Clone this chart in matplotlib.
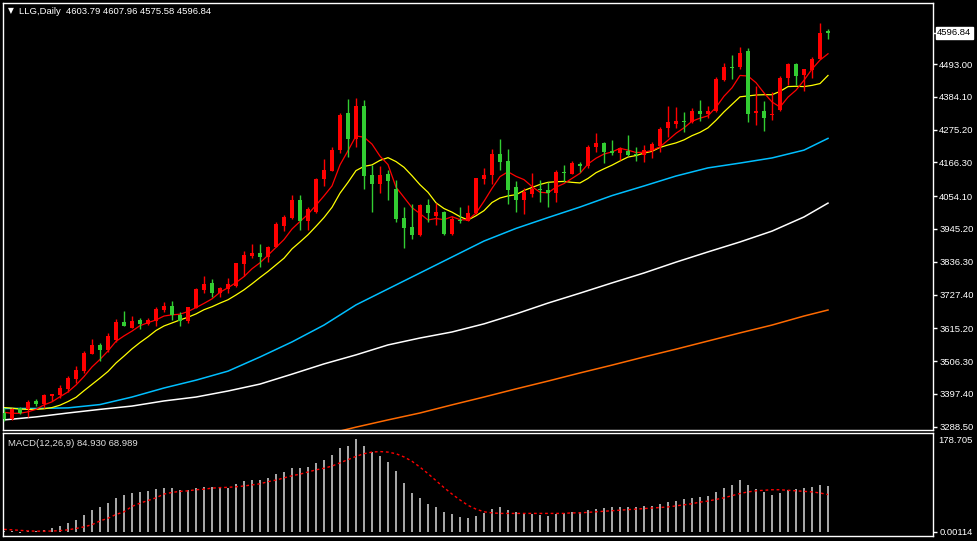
import matplotlib
matplotlib.use("Agg")
import matplotlib.pyplot as plt
import matplotlib.transforms as mtransforms

# daily candles
opens = [3333, 3314, 3349, 3346, 3374, 3364, 3390, 3393, 3414, 3448,
         3473, 3531, 3560, 3543, 3576, 3636, 3617, 3643, 3629, 3640,
         3676, 3689, 3659, 3640, 3684, 3742, 3765, 3731, 3747, 3756,
         3829, 3855, 3864, 3851, 3886, 3955, 3982, 4041, 3973, 4002,
         4110, 4139, 4207, 4329, 4244, 4353, 4124, 4094, 4127, 4078,
         3981, 3953, 3925, 4025, 3988, 4002, 3928, 3976, 3973, 3997,
         4111, 4124, 4194, 4171, 4083, 4041, 4061, 4079, 4074, 4065,
         4135, 4128, 4161, 4154, 4218, 4232, 4204, 4198, 4205, 4194,
         4191, 4207, 4222, 4279, 4293, 4304, 4299, 4337, 4327, 4337,
         4440, 4484, 4484, 4536, 4329, 4337, 4324, 4340, 4445, 4492,
         4456, 4473, 4510, 4603.79]
highs = [3349, 3350, 3355, 3377, 3379, 3397, 3397, 3427, 3458, 3490,
         3540, 3579, 3566, 3599, 3646, 3673, 3656, 3650, 3648, 3687,
         3703, 3706, 3670, 3687, 3748, 3789, 3778, 3753, 3781, 3833,
         3872, 3894, 3894, 3888, 3968, 3992, 4058, 4058, 4019, 4115,
         4177, 4216, 4329, 4377, 4379, 4373, 4157, 4154, 4141, 4108,
         4019, 4027, 4028, 4045, 4030, 4006, 3988, 4019, 4025, 4114,
         4148, 4211, 4244, 4211, 4104, 4080, 4130, 4108, 4102, 4141,
         4157, 4171, 4168, 4224, 4265, 4235, 4241, 4218, 4257, 4216,
         4224, 4235, 4285, 4354, 4351, 4333, 4346, 4373, 4354, 4449,
         4497, 4523, 4550, 4545, 4421, 4370, 4401, 4453, 4497, 4497,
         4476, 4515, 4630, 4607.96]
lows = [3308, 3310, 3330, 3320, 3358, 3350, 3374, 3383, 3405, 3435,
        3468, 3529, 3508, 3537, 3571, 3624, 3615, 3612, 3626, 3624,
        3670, 3643, 3623, 3632, 3682, 3731, 3718, 3720, 3733, 3753,
        3790, 3849, 3818, 3836, 3884, 3939, 3977, 3942, 3942, 3999,
        4089, 4138, 4196, 4183, 4216, 4078, 4002, 4063, 4041, 3967,
        3883, 3912, 3923, 3969, 3958, 3925, 3925, 3964, 3972, 3995,
        4094, 4094, 4141, 4028, 4002, 3995, 4052, 4036, 4019, 4036,
        4102, 4128, 4135, 4148, 4202, 4163, 4191, 4174, 4187, 4171,
        4168, 4180, 4202, 4251, 4279, 4268, 4296, 4304, 4313, 4335,
        4437, 4443, 4476, 4301, 4290, 4271, 4307, 4338, 4423, 4423,
        4404, 4445, 4510, 4575.58]
closes = [3314, 3346, 3335, 3370, 3363, 3393, 3396, 3418, 3450, 3477,
          3533, 3559, 3543, 3590, 3636, 3624, 3639, 3629, 3643, 3679,
          3690, 3659, 3640, 3685, 3745, 3762, 3734, 3748, 3762, 3831,
          3859, 3864, 3851, 3886, 3962, 3986, 4041, 3973, 4010, 4111,
          4141, 4207, 4323, 4244, 4353, 4122, 4094, 4124, 4104, 3978,
          3949, 3925, 4025, 3999, 4002, 3928, 3978, 3972, 3997, 4114,
          4124, 4194, 4167, 4074, 4041, 4069, 4078, 4074, 4063, 4135,
          4130, 4165, 4155, 4218, 4232, 4202, 4198, 4213, 4191, 4190,
          4207, 4227, 4277, 4299, 4304, 4300, 4337, 4327, 4337, 4443,
          4484, 4479, 4530, 4327, 4337, 4313, 4328, 4445, 4492, 4453,
          4476, 4510, 4595, 4596.84]

# short moving averages (red, yellow), one value per candle
ma_red = [3336, 3333, 3333, 3338, 3346, 3361, 3371, 3388, 3404, 3427,
          3455, 3487, 3512, 3540, 3572, 3590, 3606, 3624, 3634, 3643,
          3656, 3660, 3662, 3671, 3684, 3698, 3713, 3735, 3750, 3767,
          3787, 3813, 3833, 3858, 3884, 3910, 3945, 3970, 3994, 4024,
          4055, 4088, 4158, 4205, 4254, 4250, 4227, 4187, 4159, 4084,
          4050, 4016, 3996, 3975, 3980, 3976, 3986, 3976, 3975, 3998,
          4037, 4080, 4119, 4135, 4120, 4109, 4086, 4067, 4065, 4084,
          4096, 4113, 4130, 4161, 4180, 4194, 4201, 4213, 4207, 4199,
          4200, 4206, 4218, 4240, 4263, 4281, 4303, 4313, 4321, 4349,
          4386, 4414, 4455, 4453, 4431, 4397, 4367, 4350, 4383, 4406,
          4439, 4476, 4506, 4527]
ma_yellow = [3352, 3350, 3347, 3346, 3346, 3348, 3352, 3360, 3372, 3386,
             3408, 3429, 3450, 3472, 3500, 3523, 3547, 3568, 3587, 3608,
             3623, 3633, 3643, 3652, 3663, 3677, 3687, 3699, 3710, 3726,
             3743, 3763, 3784, 3804, 3826, 3848, 3879, 3902, 3926, 3954,
             3983, 4017, 4064, 4100, 4139, 4153, 4158, 4173, 4182, 4169,
             4150, 4122, 4092, 4067, 4032, 4013, 4001, 3986, 3975, 3989,
             4006, 4033, 4048, 4055, 4059, 4073, 4083, 4093, 4100, 4102,
             4103, 4100, 4098, 4113, 4132, 4145, 4157, 4171, 4184, 4189,
             4197, 4203, 4216, 4224, 4231, 4241, 4255, 4266, 4281, 4306,
             4334, 4359, 4384, 4387, 4390, 4391, 4391, 4402, 4418, 4419,
             4418, 4422, 4428, 4455]

# long moving averages, read every few candles
long_idx = [0, 4, 8, 12, 16, 20, 24, 28, 32, 36, 40, 44, 48, 52,
            56, 60, 64, 68, 72, 76, 80, 84, 88, 92, 96, 100, 103]
ma_blue = [3349, 3349, 3351, 3362, 3387, 3417, 3443, 3473, 3520, 3570,
           3626, 3693, 3746, 3799, 3852, 3905, 3947, 3983, 4018, 4056,
           4088, 4121, 4148, 4164, 4181, 4207, 4246]
ma_white = [3311, 3321, 3334, 3346, 3357, 3374, 3387, 3407, 3430, 3463,
            3497, 3527, 3560, 3583, 3603, 3630, 3663, 3699, 3732, 3766,
            3799, 3835, 3869, 3902, 3938, 3985, 4031]
orange_idx = [42, 44, 48, 52, 56, 60, 64, 68, 72, 76, 80, 84, 88, 92, 96, 100, 103]
ma_orange = [3274, 3287, 3311, 3334, 3361, 3387, 3414, 3440, 3467, 3493,
             3520, 3546, 3573, 3600, 3626, 3656, 3676]

# MACD(12,26,9)
macd_main = [1, 2, -2, 0.5, 1, 3, 6, 10.5, 15.5, 21.7,
             31, 40, 45, 52.7, 62, 67.5, 72, 74, 75.6, 79,
             81, 80.5, 77.4, 77.4, 81, 84, 84, 83, 82, 88.6,
             94, 96.7, 96.7, 99, 106.6, 111.5, 119, 119, 120, 128,
             133, 142, 155, 160, 172, 160, 148, 140, 130, 112,
             90, 72, 62, 52, 45, 36, 32, 28, 26, 30,
             34, 42, 45, 40, 36, 34, 33, 31, 30, 33,
             34, 36, 37, 40, 43, 44, 45, 46, 46, 46,
             47, 48, 52, 56, 58, 60, 63, 64, 66, 73,
             82, 87, 96, 86, 80, 73, 68, 72, 78, 80,
             81, 84, 86, 84.93]
macd_signal = [4.3, 3.5, 2.5, 1.5, 1, 1, 1.2, 2, 3.5, 6,
               9, 13, 20, 25, 32, 37, 47, 53, 58, 63,
               70, 73, 75, 76, 78, 79, 81, 82, 82.5, 83.5,
               85, 87, 89, 93, 96, 100, 104, 107, 111, 115,
               118, 122, 128, 134, 140, 145, 148, 149, 148, 145,
               139, 131, 120, 108, 95, 82, 70, 59, 49, 42,
               37, 35, 34, 34, 34, 34, 34, 34, 34, 34,
               34, 35, 35, 36, 37, 38, 39, 40, 41, 42,
               43, 44, 45, 46, 48, 50, 52, 55, 57, 60,
               63, 67, 71, 74, 76, 77, 78, 78, 77, 76,
               75, 74, 72, 68.989]

price_ticks = [4493.00, 4384.10, 4275.20, 4166.30, 4054.10, 3945.20,
               3836.30, 3727.40, 3615.20, 3506.30, 3397.40, 3288.50]

plt.rcParams['font.family'] = ['Liberation Sans', 'DejaVu Sans']
FS = 6.8

W, H = 977, 541
fig = plt.figure(figsize=(W / 100, H / 100), dpi=100, facecolor='black')


def px_box(x0, y0, x1, y1):
    return [x0 / W, 1 - y1 / H, (x1 - x0) / W, (y1 - y0) / H]


ax = fig.add_axes(px_box(3, 3, 933, 430))
axm = fig.add_axes(px_box(3, 433, 933, 536))

for a in (ax, axm):
    a.set_facecolor('black')
    for s in a.spines.values():
        s.set_color('white')
        s.set_linewidth(1)
    a.set_xlim(-0.125, 116.125)
    a.tick_params(axis='x', bottom=False, labelbottom=False)
    a.yaxis.tick_right()
    a.tick_params(axis='y', direction='out', length=3, width=1, color='white',
                  labelcolor='white', labelsize=FS, pad=1.5, left=False)

ax.set_ylim(3277.5, 4695.6)
ax.set_yticks(price_ticks + [closes[-1]])
ax.set_yticklabels([f"{t:.2f}" for t in price_ticks] + [""])

x = list(range(len(closes)))
up = [c >= o for o, c in zip(opens, closes)]
cols = ['#ff0000' if u else '#32cd32' for u in up]

# lines below the candles
ax.plot(long_idx, ma_white, color='white', lw=1.1, zorder=2)
ax.plot(long_idx, ma_blue, color='#00bfff', lw=1.1, zorder=2)
ax.plot(orange_idx, ma_orange, color='#ff6a00', lw=1.1, zorder=2)
ax.plot(x, ma_yellow, color='#ffff00', lw=0.9, zorder=2)
ax.plot(x, ma_red, color='#ff0000', lw=0.9, zorder=2)

ax.vlines(x, lows, highs, colors=cols, lw=1, zorder=3)
bottoms = [min(o, c) for o, c in zip(opens, closes)]
heights = [max(abs(c - o), 3.0) for o, c in zip(opens, closes)]
ax.bar(x, heights, bottom=bottoms, width=0.62, color=cols, linewidth=0, zorder=4)

# current price box
tr = mtransforms.blended_transform_factory(ax.transAxes, ax.transData)
ax.text(1.0 + 4 / 930, closes[-1], f"{closes[-1]:.2f}", transform=tr,
        ha='left', va='center', fontsize=FS, color='black',
        bbox=dict(boxstyle='square,pad=0.15', fc='white', ec='white'))

# MACD panel
axm.set_ylim(-8.0, 183.5)
axm.vlines(x, 0, macd_main, colors='#c8c8c8', lw=1.2)
axm.plot(x, macd_signal, color='#ff0000', lw=1, dashes=(2, 2))
axm.set_yticks([0.00114])
axm.set_yticklabels(["0.00114"])
trm = mtransforms.blended_transform_factory(axm.transAxes, axm.transAxes)
axm.text(1.0 + 5 / 930, 0.97, "178.705", transform=trm, ha='left', va='top',
         fontsize=FS, color='white')

fig.text(8 / W, 1 - 11 / H, "\u25bc", fontsize=5.5, color='white',
         ha='left', va='center', family=['DejaVu Sans'])
fig.text(19 / W, 1 - 11 / H, "LLG,Daily  4603.79 4607.96 4575.58 4596.84",
         fontsize=FS, color='white', ha='left', va='center')
fig.text(8 / W, 1 - 443 / H, "MACD(12,26,9) 84.930 68.989",
         fontsize=FS, color='#e0e0e0', ha='left', va='center')

fig.savefig("out.png", dpi=100, facecolor='black')
